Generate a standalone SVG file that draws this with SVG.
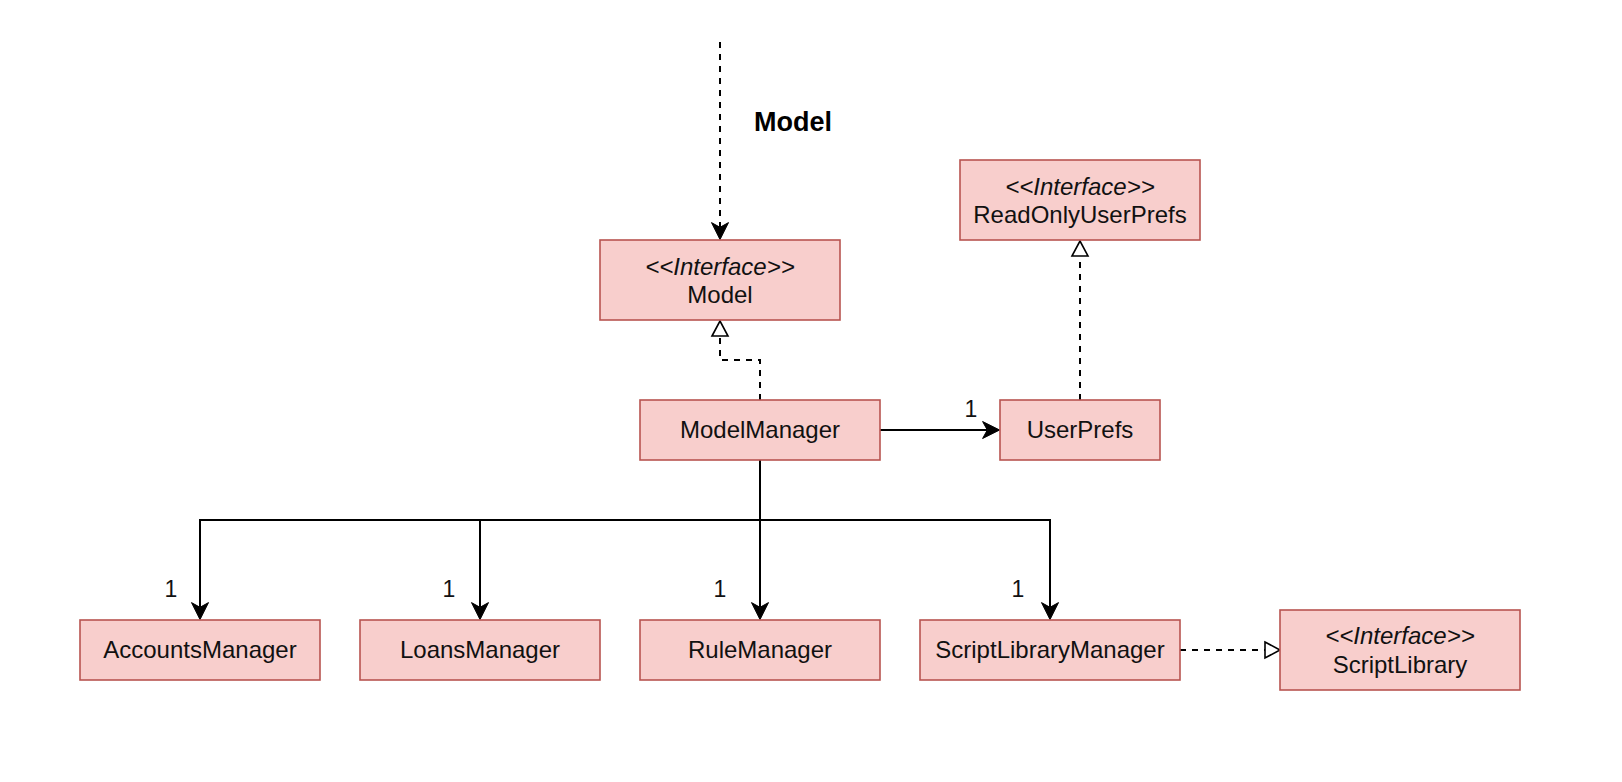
<svg xmlns="http://www.w3.org/2000/svg" width="1622" height="782" viewBox="0 0 1622 782">
<style>
.node rect{fill:#f8cecc;stroke:#b85450;stroke-width:1.6}
text{font-family:"Liberation Sans",Arial,Helvetica,sans-serif;font-size:24px;fill:#111;text-anchor:middle}
.it{font-style:italic}
.lbl{font-size:23px}
.title{font-weight:bold;font-size:27px;text-anchor:start;fill:#000}
.conn path{fill:none;stroke:#000;stroke-width:2}
.dash{stroke-dasharray:6 6}
</style>
<defs>
<marker id="arrow" markerUnits="userSpaceOnUse" markerWidth="20" markerHeight="20" refX="4.7" refY="8.5" orient="auto" overflow="visible">
<path d="M0,0 L17,8.5 L0,17 L4.7,8.5 Z" fill="#000" stroke="#000" stroke-width="1"/>
</marker>
<marker id="tri" markerUnits="userSpaceOnUse" markerWidth="20" markerHeight="20" refX="15" refY="8" orient="auto" overflow="visible">
<path d="M0,0 L15,8 L0,16 Z" fill="#fff" stroke="#000" stroke-width="1.6"/>
</marker>
</defs>
<rect width="1622" height="782" fill="#fff"/>
<text class="title" x="754" y="131">Model</text>
<g class="conn" id="connectors">
<path class="dash" d="M720,42 L720,227.3" marker-end="url(#arrow)"/>
<path class="dash" d="M760,400 L760,360 L720,360 L720,321" marker-end="url(#tri)"/>
<path class="dash" d="M1080,400 L1080,241" marker-end="url(#tri)"/>
<path class="dash" d="M1180,650 L1280,650" marker-end="url(#tri)"/>
<path d="M880,430 L987.3,430" marker-end="url(#arrow)"/>
<path d="M760,460 L760,607.3" marker-end="url(#arrow)"/>
<path d="M760,520 L200,520 L200,607.3" marker-end="url(#arrow)"/>
<path d="M480,520 L480,607.3" marker-end="url(#arrow)"/>
<path d="M760,520 L1050,520 L1050,607.3" marker-end="url(#arrow)"/>
</g>
<g id="labels">
<text class="lbl" x="971" y="417">1</text>
<text class="lbl" x="171" y="597">1</text>
<text class="lbl" x="449" y="597">1</text>
<text class="lbl" x="720" y="597">1</text>
<text class="lbl" x="1018" y="597">1</text>
</g>
<g class="node" id="model">
<rect x="600" y="240" width="240" height="80"/>
<text class="it" x="720" y="275">&lt;&lt;Interface&gt;&gt;</text>
<text x="720" y="303">Model</text>
</g>
<g class="node" id="readonlyuserprefs">
<rect x="960" y="160" width="240" height="80"/>
<text class="it" x="1080" y="195">&lt;&lt;Interface&gt;&gt;</text>
<text x="1080" y="223">ReadOnlyUserPrefs</text>
</g>
<g class="node" id="modelmanager">
<rect x="640" y="400" width="240" height="60"/>
<text x="760" y="438">ModelManager</text>
</g>
<g class="node" id="userprefs">
<rect x="1000" y="400" width="160" height="60"/>
<text x="1080" y="438">UserPrefs</text>
</g>
<g class="node" id="accountsmanager">
<rect x="80" y="620" width="240" height="60"/>
<text x="200" y="658">AccountsManager</text>
</g>
<g class="node" id="loansmanager">
<rect x="360" y="620" width="240" height="60"/>
<text x="480" y="658">LoansManager</text>
</g>
<g class="node" id="rulemanager">
<rect x="640" y="620" width="240" height="60"/>
<text x="760" y="658">RuleManager</text>
</g>
<g class="node" id="scriptlibrarymanager">
<rect x="920" y="620" width="260" height="60"/>
<text x="1050" y="658">ScriptLibraryManager</text>
</g>
<g class="node" id="scriptlibrary">
<rect x="1280" y="610" width="240" height="80"/>
<text class="it" x="1400" y="644">&lt;&lt;Interface&gt;&gt;</text>
<text x="1400" y="673">ScriptLibrary</text>
</g>
</svg>
